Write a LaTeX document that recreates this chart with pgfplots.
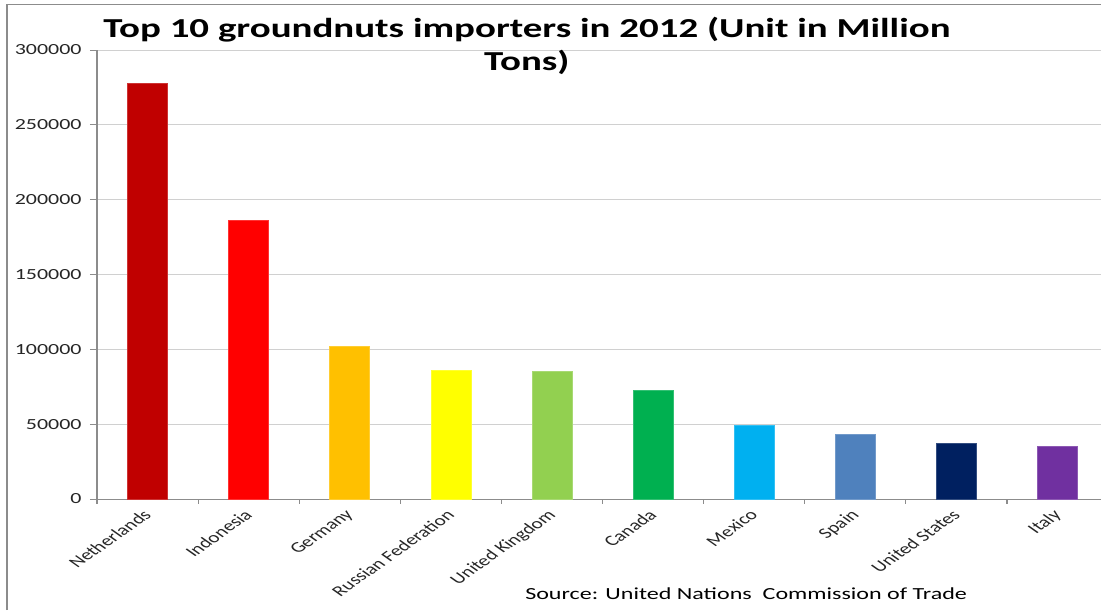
\documentclass[border=0pt]{standalone}
\usepackage{graphicx}
\usepackage{pgfplots}
\pgfplotsset{compat=1.18}
\usepackage{fontspec}
\setmainfont{Carlito}
\definecolor{c1}{HTML}{C00000}
\definecolor{c2}{HTML}{FF0000}
\definecolor{c3}{HTML}{FFC000}
\definecolor{c4}{HTML}{FFFF00}
\definecolor{c5}{HTML}{92D050}
\definecolor{c6}{HTML}{00B050}
\definecolor{c7}{HTML}{00B0F0}
\definecolor{c8}{HTML}{4F81BD}
\definecolor{c9}{HTML}{002060}
\definecolor{c10}{HTML}{7030A0}
\definecolor{gridc}{HTML}{D0D0D0}
\definecolor{axc}{HTML}{8C8C8C}
\begin{document}
\scalebox{1.42}[1]{%
\begin{tikzpicture}[x=1bp,y=1bp]
\useasboundingbox (0,0) rectangle (775.35,610);
\fill[white] (0,0) rectangle (775.35,610);
\draw[axc, line width=1bp] (4.9,0) -- (4.9,605) -- (775.35,605);
\begin{axis}[
  at={(68.3bp,111bp)}, anchor=south west,
  scale only axis, width=712bp, height=449bp,
  xmin=-0.5, xmax=9.5, ymin=0, ymax=300000,
  ytick={0,50000,...,300000},
  scaled y ticks=false,
  /pgf/number format/fixed,
  /pgf/number format/1000 sep={},
  /pgf/number format/assume math mode=true,
  ymajorgrids, grid style={gridc, line width=0.8bp},
  axis x line*=bottom, axis y line*=left,
  axis line style={axc, line width=0.8bp},
  tick align=outside, major tick length=5bp, minor tick length=5bp,
  tick style={axc, line width=0.8bp},
  xtick={0,...,9},
  xticklabels={Netherlands,Indonesia,Germany,Russian Federation,United Kingdom,Canada,Mexico,Spain,United States,Italy},
  major x tick style={draw=none},
  minor xtick={-0.5,0.5,...,9.5},
  ticklabel style={text=black!85},
  xticklabel style={font=\fontsize{15}{18}\selectfont, xshift=-4bp, yshift=-3bp, rotate=45, anchor=north east, inner sep=1bp},
  yticklabel style={font=\fontsize{15.5}{18}\selectfont, xshift=-2.4bp},
  ybar, bar width=28.2bp, bar shift=0pt,
  clip=false,
]
\addplot[fill=c1, draw=c1!80!white] coordinates {(0,278000)};
\addplot[fill=c2, draw=c2!80!white] coordinates {(1,186000)};
\addplot[fill=c3, draw=c3!80!white] coordinates {(2,102000)};
\addplot[fill=c4, draw=c4!80!white] coordinates {(3,86000)};
\addplot[fill=c5, draw=c5!80!white] coordinates {(4,85500)};
\addplot[fill=c6, draw=c6!80!white] coordinates {(5,73000)};
\addplot[fill=c7, draw=c7!80!white] coordinates {(6,49500)};
\addplot[fill=c8, draw=c8!80!white] coordinates {(7,43500)};
\addplot[fill=c9, draw=c9!80!white] coordinates {(8,37000)};
\addplot[fill=c10, draw=c10!80!white] coordinates {(9,35500)};
\end{axis}
\node[anchor=base, font=\fontsize{27.5}{33}\selectfont\bfseries, inner sep=0pt] at (371,572) {Top 10 groundnuts importers in 2012 (Unit in Million};
\node[anchor=base, font=\fontsize{27.5}{33}\selectfont\bfseries, inner sep=0pt] at (371,539) {Tons)};
\node[anchor=base west, font=\fontsize{17}{20}\selectfont, inner sep=0pt] at (369.7,11) {Source: United Nations\ \ Commission of Trade};
\end{tikzpicture}}
\end{document}
